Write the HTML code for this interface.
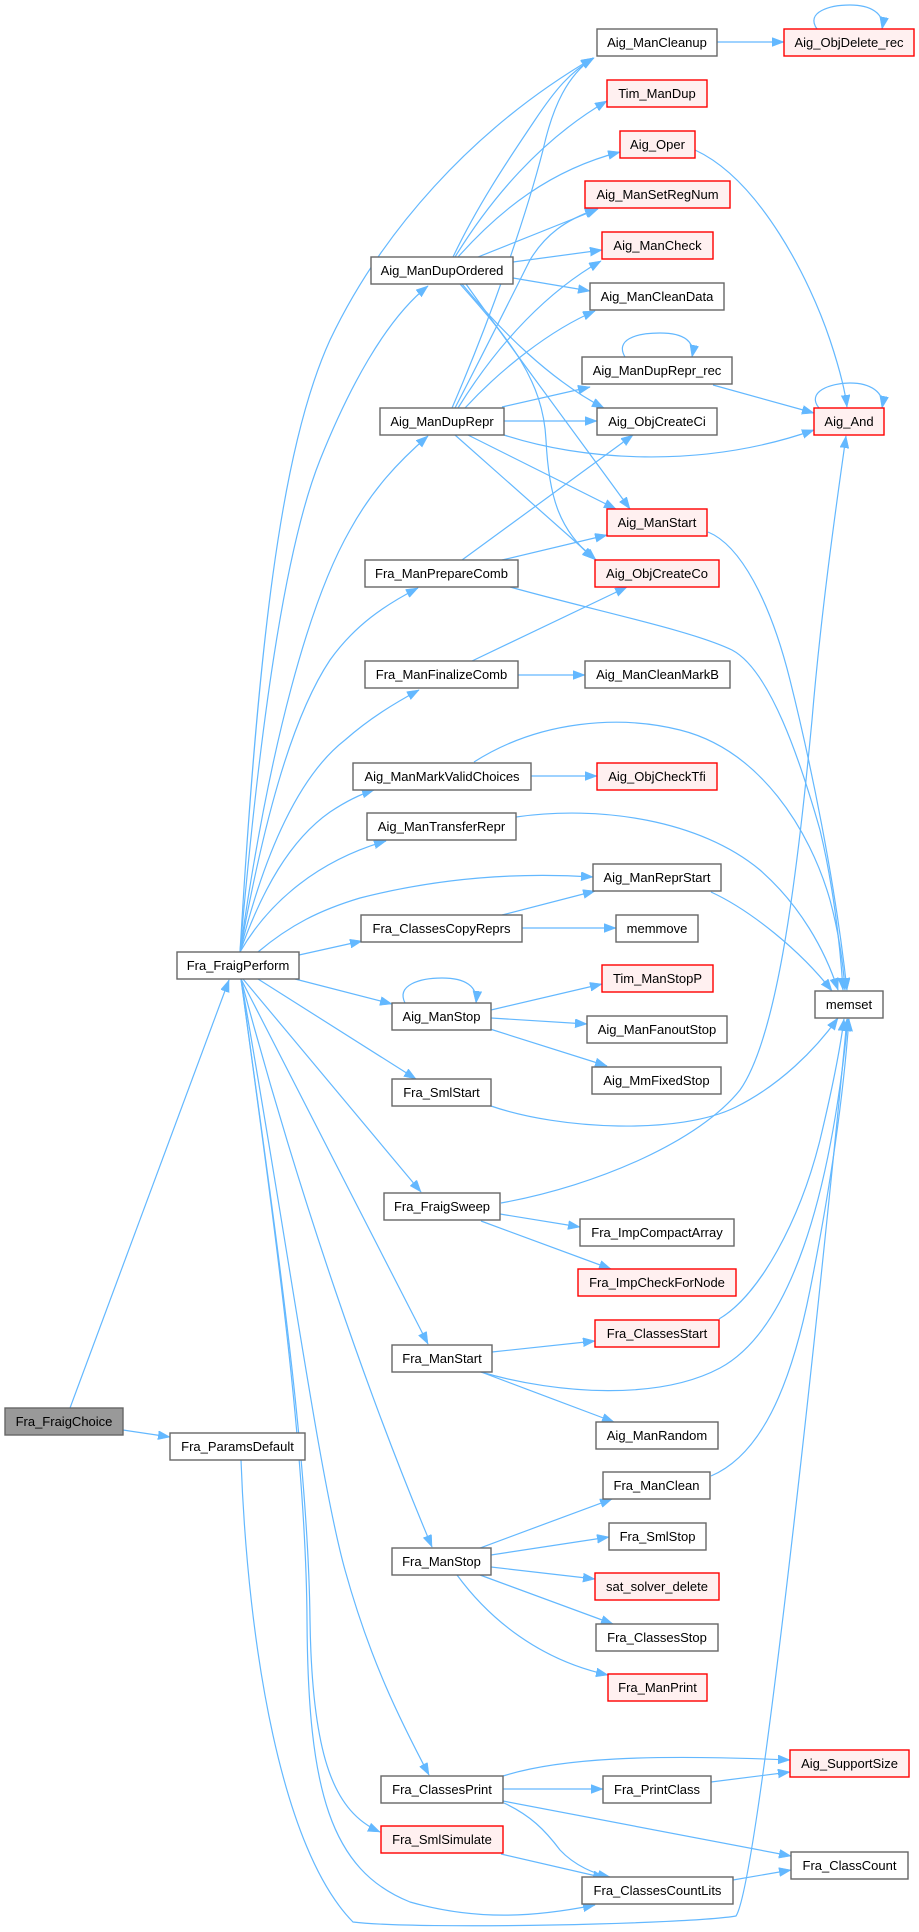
<!DOCTYPE html>
<html><head><meta charset="utf-8">
<style>
html,body{margin:0;padding:0;background:#fff;}
svg{display:block;}
text{font-family:"Liberation Sans",Arial,sans-serif;font-size:13px;fill:#000;}
.n{fill:#fff;stroke:#666;stroke-width:1.4;}
.r{fill:#fff0f0;stroke:#f00;stroke-width:1.4;}
.g{fill:#999;stroke:#666;stroke-width:1.4;}
.e{fill:none;stroke:#63b8ff;stroke-width:1.2;marker-end:url(#a);}
</style></head>
<body>
<svg width="919" height="1932" viewBox="0 0 919 1932" xmlns="http://www.w3.org/2000/svg">
<defs>
<marker id="a" markerWidth="13" markerHeight="10" refX="12" refY="4.5" orient="auto" markerUnits="userSpaceOnUse">
<path d="M0,0 L12,4.5 L0,9 z" fill="#63b8ff" stroke="#63b8ff" stroke-width="0.5"/>
</marker>
</defs>

<g>
<path class="e" d="M70,1408 L229,980"/>
<path class="e" d="M123,1430 L170,1437"/>
<path class="e" d="M241,1460 C248,1650 282,1850 353,1922 C420,1930 690,1924 736,1916 C760,1880 830,1200 847,1019"/>

<path class="e" d="M240,952 C258,650 280,450 330,340 C380,235 470,130 593,58"/>
<path class="e" d="M240,952 C262,700 288,540 320,460 C348,390 385,320 428,286"/>
<path class="e" d="M240,952 C270,740 310,600 350,530 C372,490 398,462 428,436"/>
<path class="e" d="M240,952 C262,830 290,720 330,660 C355,625 385,605 418,588"/>
<path class="e" d="M240,952 C265,850 300,775 345,740 C370,718 395,703 419,690"/>
<path class="e" d="M240,952 C262,890 290,840 330,812 C345,802 358,795 374,790"/>
<path class="e" d="M240,952 C270,900 320,860 386,841"/>
<path class="e" d="M258,952 C290,925 320,910 360,898 C450,875 530,873 593,877"/>
<path class="e" d="M299,955 L362,941"/>
<path class="e" d="M295,979 L392,1004"/>
<path class="e" d="M258,979 L416,1079"/>
<path class="e" d="M243,979 L421,1192"/>
<path class="e" d="M241,979 L428,1344"/>
<path class="e" d="M241,979 C300,1200 370,1400 432,1547"/>
<path class="e" d="M241,979 C290,1260 320,1480 345,1570 C370,1660 400,1720 429,1775"/>
<path class="e" d="M241,979 C275,1230 308,1450 310,1620 C312,1760 335,1812 380,1832"/>
<path class="e" d="M241,979 C275,1230 306,1450 307,1620 C308,1790 330,1870 410,1902 C480,1922 540,1916 595,1905"/>

<path class="e" d="M453,257 C480,200 515,150 535,120 C555,90 570,72 594,58"/>
<path class="e" d="M455,257 C490,200 540,140 607,101"/>
<path class="e" d="M458,257 C500,210 550,170 620,152"/>
<path class="e" d="M478,257 L598,209"/>
<path class="e" d="M513,262 L602,250"/>
<path class="e" d="M513,278 L590,291"/>
<path class="e" d="M462,284 C500,330 550,380 604,408"/>
<path class="e" d="M466,284 C520,360 580,440 630,509"/>
<path class="e" d="M460,284 C510,340 543,380 546,440 C549,500 560,530 594,559"/>

<path class="e" d="M452,408 C490,320 525,220 543,150 C553,105 568,75 593,58"/>
<path class="e" d="M455,408 C490,340 515,290 530,260 C545,235 565,220 597,209"/>
<path class="e" d="M458,408 C500,340 550,290 601,261"/>
<path class="e" d="M465,408 C500,370 550,330 595,311"/>
<path class="e" d="M502,407 L590,387"/>
<path class="e" d="M504,421 L597,421"/>
<path class="e" d="M504,435 C580,460 700,470 814,430"/>
<path class="e" d="M468,435 L616,509"/>
<path class="e" d="M455,435 L596,560"/>

<path class="e" d="M462,560 L633,435"/>
<path class="e" d="M502,560 L607,535"/>
<path class="e" d="M510,587 C600,612 690,630 732,650 C770,670 800,760 820,830 C832,880 840,940 843,990"/>

<path class="e" d="M472,661 L627,587"/>
<path class="e" d="M518,675 L585,675"/>

<path class="e" d="M474,762 C540,720 620,715 680,730 C760,750 810,830 830,900 C838,930 843,960 845,990"/>
<path class="e" d="M531,776 L597,776"/>

<path class="e" d="M516,817 C600,805 700,820 760,870 C800,905 825,950 838,990"/>

<path class="e" d="M711,892 C750,910 800,950 832,991"/>

<path class="e" d="M502,915 L595,891"/>
<path class="e" d="M522,928 L616,928"/>

<path class="e" d="M708,532 C740,545 770,600 790,680 C810,760 835,880 847,990"/>

<path class="e" d="M695,150 C760,180 810,280 830,340 C840,370 845,390 847,407"/>

<path class="e" d="M713,385 L814,413"/>
<path class="e" d="M625,357 C615,340 635,333 660,333 C685,333 695,342 692,357"/>

<path class="e" d="M819,408 C806,392 830,383 850,383 C870,383 885,392 882,408"/>
<path class="e" d="M817,29 C805,12 830,5 850,5 C870,5 885,13 882,29"/>
<path class="e" d="M717,42 L784,42"/>

<path class="e" d="M405,1003 C396,985 420,978 442,978 C465,978 478,986 476,1003"/>
<path class="e" d="M491,1010 L602,984"/>
<path class="e" d="M491,1018 L587,1024"/>
<path class="e" d="M490,1029 L607,1066"/>

<path class="e" d="M491,1106 C560,1130 680,1135 736,1107 C780,1085 815,1050 838,1018"/>

<path class="e" d="M501,1203 C600,1185 700,1140 740,1090 C775,1040 795,900 812,720 C822,600 840,480 846,436"/>
<path class="e" d="M500,1214 L580,1227"/>
<path class="e" d="M481,1221 L611,1269"/>

<path class="e" d="M492,1352 L595,1341"/>
<path class="e" d="M481,1372 C560,1395 660,1400 720,1368 C790,1330 830,1200 848,1019"/>
<path class="e" d="M481,1372 L614,1422"/>

<path class="e" d="M719,1319 C760,1295 800,1220 820,1140 C832,1090 840,1050 844,1019"/>
<path class="e" d="M711,1476 C760,1455 790,1390 810,1290 C830,1190 843,1100 849,1019"/>

<path class="e" d="M480,1548 L612,1499"/>
<path class="e" d="M491,1555 L609,1537"/>
<path class="e" d="M491,1567 L595,1579"/>
<path class="e" d="M480,1575 L613,1624"/>
<path class="e" d="M457,1575 C490,1620 540,1660 608,1675"/>

<path class="e" d="M503,1776 C560,1758 650,1754 790,1760"/>
<path class="e" d="M503,1789 L603,1789"/>
<path class="e" d="M503,1801 L791,1856"/>
<path class="e" d="M504,1803 C530,1815 545,1830 560,1850 C575,1866 595,1874 610,1877"/>

<path class="e" d="M711,1782 L790,1772"/>
<path class="e" d="M501,1854 L605,1878"/>
<path class="e" d="M733,1880 L791,1870"/>
</g>

<g>
<rect class="g" x="5" y="1408" width="118" height="27"/><text x="64" y="1426" text-anchor="middle">Fra_FraigChoice</text>
<rect class="n" x="170" y="1433" width="135" height="27"/><text x="237.5" y="1451" text-anchor="middle">Fra_ParamsDefault</text>
<rect class="n" x="177" y="952" width="122" height="27"/><text x="238" y="970" text-anchor="middle">Fra_FraigPerform</text>

<rect class="n" x="371" y="257" width="142" height="27"/><text x="442" y="275" text-anchor="middle">Aig_ManDupOrdered</text>
<rect class="n" x="380" y="408" width="124" height="27"/><text x="442" y="426" text-anchor="middle">Aig_ManDupRepr</text>
<rect class="n" x="365" y="560" width="153" height="27"/><text x="441.5" y="578" text-anchor="middle">Fra_ManPrepareComb</text>
<rect class="n" x="365" y="661" width="153" height="27"/><text x="441.5" y="679" text-anchor="middle">Fra_ManFinalizeComb</text>
<rect class="n" x="353" y="763" width="178" height="27"/><text x="442" y="781" text-anchor="middle">Aig_ManMarkValidChoices</text>
<rect class="n" x="367" y="813" width="149" height="27"/><text x="441.5" y="831" text-anchor="middle">Aig_ManTransferRepr</text>
<rect class="n" x="361" y="915" width="161" height="27"/><text x="441.5" y="933" text-anchor="middle">Fra_ClassesCopyReprs</text>
<rect class="n" x="392" y="1003" width="99" height="27"/><text x="441.5" y="1021" text-anchor="middle">Aig_ManStop</text>
<rect class="n" x="392" y="1079" width="99" height="27"/><text x="441.5" y="1097" text-anchor="middle">Fra_SmlStart</text>
<rect class="n" x="384" y="1193" width="116" height="27"/><text x="442" y="1211" text-anchor="middle">Fra_FraigSweep</text>
<rect class="n" x="392" y="1345" width="100" height="27"/><text x="442" y="1363" text-anchor="middle">Fra_ManStart</text>
<rect class="n" x="392" y="1548" width="99" height="27"/><text x="441.5" y="1566" text-anchor="middle">Fra_ManStop</text>
<rect class="n" x="381" y="1776" width="122" height="27"/><text x="442" y="1794" text-anchor="middle">Fra_ClassesPrint</text>
<rect class="r" x="381" y="1826" width="122" height="27"/><text x="442" y="1844" text-anchor="middle">Fra_SmlSimulate</text>

<rect class="n" x="597" y="29" width="120" height="27"/><text x="657" y="47" text-anchor="middle">Aig_ManCleanup</text>
<rect class="r" x="607" y="80" width="100" height="27"/><text x="657" y="98" text-anchor="middle">Tim_ManDup</text>
<rect class="r" x="620" y="131" width="75" height="27"/><text x="657.5" y="149" text-anchor="middle">Aig_Oper</text>
<rect class="r" x="585" y="181" width="145" height="27"/><text x="657.5" y="199" text-anchor="middle">Aig_ManSetRegNum</text>
<rect class="r" x="602" y="232" width="111" height="27"/><text x="657.5" y="250" text-anchor="middle">Aig_ManCheck</text>
<rect class="n" x="590" y="283" width="134" height="27"/><text x="657" y="301" text-anchor="middle">Aig_ManCleanData</text>
<rect class="n" x="582" y="357" width="150" height="27"/><text x="657" y="375" text-anchor="middle">Aig_ManDupRepr_rec</text>
<rect class="n" x="597" y="408" width="120" height="27"/><text x="657" y="426" text-anchor="middle">Aig_ObjCreateCi</text>
<rect class="r" x="607" y="509" width="100" height="27"/><text x="657" y="527" text-anchor="middle">Aig_ManStart</text>
<rect class="r" x="595" y="560" width="124" height="27"/><text x="657" y="578" text-anchor="middle">Aig_ObjCreateCo</text>
<rect class="n" x="585" y="661" width="145" height="27"/><text x="657.5" y="679" text-anchor="middle">Aig_ManCleanMarkB</text>
<rect class="r" x="597" y="763" width="120" height="27"/><text x="657" y="781" text-anchor="middle">Aig_ObjCheckTfi</text>
<rect class="n" x="593" y="864" width="128" height="27"/><text x="657" y="882" text-anchor="middle">Aig_ManReprStart</text>
<rect class="n" x="616" y="915" width="82" height="27"/><text x="657" y="933" text-anchor="middle">memmove</text>
<rect class="r" x="602" y="965" width="111" height="27"/><text x="657.5" y="983" text-anchor="middle">Tim_ManStopP</text>
<rect class="n" x="587" y="1016" width="140" height="27"/><text x="657" y="1034" text-anchor="middle">Aig_ManFanoutStop</text>
<rect class="n" x="592" y="1067" width="129" height="27"/><text x="656.5" y="1085" text-anchor="middle">Aig_MmFixedStop</text>
<rect class="n" x="580" y="1219" width="154" height="27"/><text x="657" y="1237" text-anchor="middle">Fra_ImpCompactArray</text>
<rect class="r" x="578" y="1269" width="158" height="27"/><text x="657" y="1287" text-anchor="middle">Fra_ImpCheckForNode</text>
<rect class="r" x="595" y="1320" width="124" height="27"/><text x="657" y="1338" text-anchor="middle">Fra_ClassesStart</text>
<rect class="n" x="596" y="1422" width="122" height="27"/><text x="657" y="1440" text-anchor="middle">Aig_ManRandom</text>
<rect class="n" x="603" y="1472" width="107" height="27"/><text x="656.5" y="1490" text-anchor="middle">Fra_ManClean</text>
<rect class="n" x="609" y="1523" width="97" height="27"/><text x="657.5" y="1541" text-anchor="middle">Fra_SmlStop</text>
<rect class="r" x="595" y="1573" width="124" height="27"/><text x="657" y="1591" text-anchor="middle">sat_solver_delete</text>
<rect class="n" x="596" y="1624" width="122" height="27"/><text x="657" y="1642" text-anchor="middle">Fra_ClassesStop</text>
<rect class="r" x="608" y="1674" width="99" height="27"/><text x="657.5" y="1692" text-anchor="middle">Fra_ManPrint</text>
<rect class="n" x="603" y="1776" width="108" height="27"/><text x="657" y="1794" text-anchor="middle">Fra_PrintClass</text>
<rect class="n" x="582" y="1877" width="151" height="27"/><text x="657.5" y="1895" text-anchor="middle">Fra_ClassesCountLits</text>

<rect class="r" x="784" y="29" width="130" height="27"/><text x="849" y="47" text-anchor="middle">Aig_ObjDelete_rec</text>
<rect class="r" x="814" y="408" width="70" height="27"/><text x="849" y="426" text-anchor="middle">Aig_And</text>
<rect class="n" x="815" y="991" width="68" height="27"/><text x="849" y="1009" text-anchor="middle">memset</text>
<rect class="r" x="790" y="1750" width="119" height="27"/><text x="849.5" y="1768" text-anchor="middle">Aig_SupportSize</text>
<rect class="n" x="791" y="1852" width="117" height="27"/><text x="849.5" y="1870" text-anchor="middle">Fra_ClassCount</text>
</g>
</svg>
</body></html>
